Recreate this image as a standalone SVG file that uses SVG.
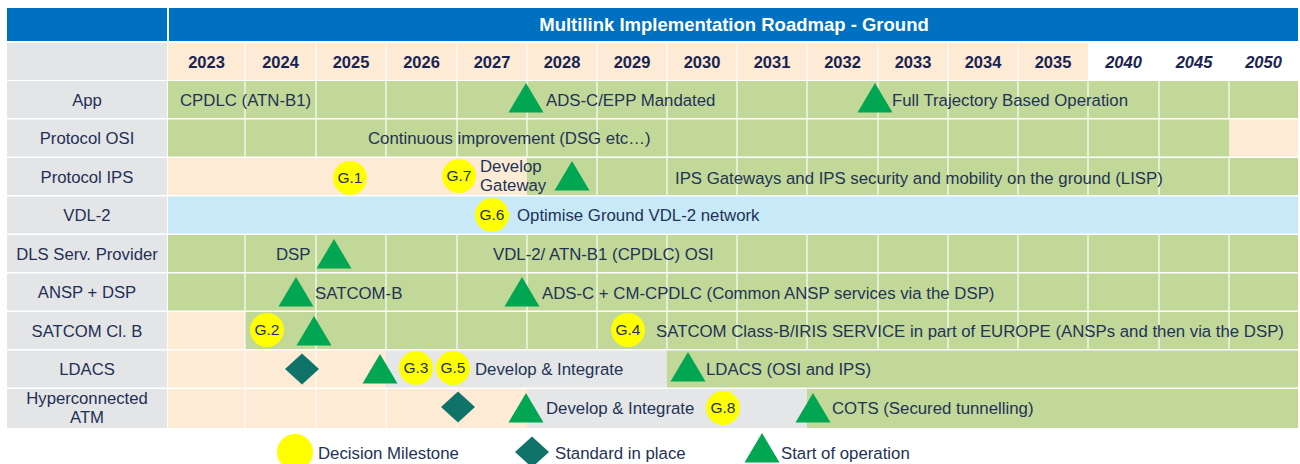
<svg xmlns="http://www.w3.org/2000/svg" xmlns:xlink="http://www.w3.org/1999/xlink" width="1300" height="464" viewBox="0 0 1300 464">
<style>
.t{font-family:"Liberation Sans",Arial,sans-serif;font-size:16.8px;fill:#223356}
.lbl{font-family:"Liberation Sans",Arial,sans-serif;font-size:16.7px;fill:#1f2f55;text-anchor:middle}
.yr{font-family:"Liberation Sans",Arial,sans-serif;font-size:16.5px;font-weight:bold;fill:#1a2450;text-anchor:middle}
.yri{font-style:italic}
.title{font-family:"Liberation Sans",Arial,sans-serif;font-size:18.5px;font-weight:bold;fill:#ffffff;text-anchor:middle}
.g{font-family:"Liberation Sans",Arial,sans-serif;font-size:15.5px;fill:#223356;text-anchor:middle}
.green{fill:#c2d898}
.beige{fill:#fdebd6}
.blue{fill:#c7e9f8}
.gray{fill:#e5e6e8}
.lab{fill:#e4e5e7}
.vl{stroke:#ffffff;stroke-width:1.5;stroke-opacity:0.75}
.vlb{stroke:#ffffff;stroke-width:1.5;stroke-opacity:0.6}
.tri{fill:#00a651}
.dia{fill:#0f736a}
.ms{fill:#ffff00}
</style>
<defs>
<path id="tri" d="M0,0 L17.5,29.5 L-17.5,29.5 Z"/>
<path id="dia" d="M0,-15.5 L17,0 L0,15.5 L-17,0 Z"/>
</defs>
<rect width="1300" height="464" fill="#ffffff"/>
<g id="header">
<rect x="7" y="8" width="160" height="33" fill="#0070c0"/>
<rect x="169" y="8" width="1129" height="33" fill="#0070c0"/>
<text class="title" x="734" y="31">Multilink Implementation Roadmap - Ground</text>
<rect x="7" y="43" width="160" height="37" class="lab"/>
<rect x="168" y="43" width="920" height="37" class="beige"/>
<g class="vl">
<line x1="245" y1="43" x2="245" y2="80"/><line x1="316" y1="43" x2="316" y2="80"/><line x1="386" y1="43" x2="386" y2="80"/><line x1="457" y1="43" x2="457" y2="80"/><line x1="527" y1="43" x2="527" y2="80"/><line x1="597" y1="43" x2="597" y2="80"/><line x1="667" y1="43" x2="667" y2="80"/><line x1="737" y1="43" x2="737" y2="80"/><line x1="807" y1="43" x2="807" y2="80"/><line x1="878" y1="43" x2="878" y2="80"/><line x1="948" y1="43" x2="948" y2="80"/><line x1="1018" y1="43" x2="1018" y2="80"/>
</g>
<text class="yr" x="206.5" y="68">2023</text>
<text class="yr" x="280.5" y="68">2024</text>
<text class="yr" x="351" y="68">2025</text>
<text class="yr" x="421.5" y="68">2026</text>
<text class="yr" x="492" y="68">2027</text>
<text class="yr" x="562" y="68">2028</text>
<text class="yr" x="632" y="68">2029</text>
<text class="yr" x="702" y="68">2030</text>
<text class="yr" x="772" y="68">2031</text>
<text class="yr" x="842.5" y="68">2032</text>
<text class="yr" x="913" y="68">2033</text>
<text class="yr" x="983" y="68">2034</text>
<text class="yr" x="1053" y="68">2035</text>
<text class="yr yri" x="1123.5" y="68">2040</text>
<text class="yr yri" x="1194" y="68">2045</text>
<text class="yr yri" x="1263.5" y="68">2050</text>
</g>
<g id="row-labels">
<rect x="7" y="81" width="160" height="37" class="lab"/>
<rect x="7" y="119.5" width="160" height="37" class="lab"/>
<rect x="7" y="158" width="160" height="37" class="lab"/>
<rect x="7" y="196.5" width="160" height="37" class="lab"/>
<rect x="7" y="235" width="160" height="37" class="lab"/>
<rect x="7" y="273.5" width="160" height="37" class="lab"/>
<rect x="7" y="312" width="160" height="37" class="lab"/>
<rect x="7" y="350.5" width="160" height="37" class="lab"/>
<rect x="7" y="389" width="160" height="39" class="lab"/>
<text class="lbl" x="87" y="106">App</text>
<text class="lbl" x="87" y="144">Protocol OSI</text>
<text class="lbl" x="87" y="183">Protocol IPS</text>
<text class="lbl" x="87" y="221">VDL-2</text>
<text class="lbl" x="87" y="260">DLS Serv. Provider</text>
<text class="lbl" x="87" y="298">ANSP + DSP</text>
<text class="lbl" x="87" y="337">SATCOM Cl. B</text>
<text class="lbl" x="87" y="375">LDACS</text>
<text class="lbl" x="87" y="404">Hyperconnected</text>
<text class="lbl" x="87" y="423">ATM</text>
</g>
<g id="cells">
<rect x="168" y="81" width="1130" height="37" class="green"/>
<rect x="168" y="119.5" width="1061" height="37" class="green"/>
<rect x="1229" y="119.5" width="69" height="37" class="beige"/>
<rect x="168" y="158" width="359" height="37" class="beige"/>
<rect x="527" y="158" width="771" height="37" class="green"/>
<rect x="168" y="196.5" width="1130" height="37" class="blue"/>
<rect x="168" y="235" width="1130" height="37" class="green"/>
<rect x="168" y="273.5" width="1130" height="37" class="green"/>
<rect x="168" y="312" width="77" height="37" class="beige"/>
<rect x="245" y="312" width="1053" height="37" class="green"/>
<rect x="168" y="350.5" width="218" height="37" class="beige"/>
<rect x="386" y="350.5" width="281" height="37" class="gray"/>
<rect x="667" y="350.5" width="631" height="37" class="green"/>
<rect x="168" y="389" width="359" height="39" class="beige"/>
<rect x="527" y="389" width="280" height="39" class="gray"/>
<rect x="807" y="389" width="491" height="39" class="green"/>
<g class="vl">
<path d="M245,81V157M316,81V157M386,81V157M457,81V157M527,81V157M597,81V157M667,81V157M737,81V157M807,81V157M878,81V157M948,81V157M1018,81V157M1088,81V157M1159,81V157M1229,81V118"/>
<path d="M597,158V195M667,158V195M737,158V195M807,158V195M878,158V195M948,158V195M1018,158V195M1088,158V195M1159,158V195M1229,158V195"/>
<path d="M245,235V349M316,235V349M386,235V349M457,235V349M527,235V349M597,235V349M667,235V349M737,235V349M807,235V349M878,235V349M948,235V349M1018,235V349M1088,235V349M1159,235V349M1229,235V349"/>
</g>
<g class="vlb">
<path d="M245,350.5V387.5M316,350.5V387.5M245,389V428M316,389V428M386,389V428M457,389V428"/>
</g>
</g>
<g id="texts">
<text class="t" x="180" y="106">CPDLC (ATN-B1)</text>
<text class="t" x="546" y="106">ADS-C/EPP Mandated</text>
<text class="t" x="892" y="106">Full Trajectory Based Operation</text>
<text class="t" x="368" y="144">Continuous improvement (DSG etc…)</text>
<text class="t" x="480" y="172">Develop</text>
<text class="t" x="480" y="191">Gateway</text>
<text class="t" x="675" y="184">IPS Gateways and IPS security and mobility on the ground (LISP)</text>
<text class="t" x="517" y="221">Optimise Ground VDL-2 network</text>
<text class="t" x="276" y="260">DSP</text>
<text class="t" x="493" y="260">VDL-2/ ATN-B1 (CPDLC) OSI</text>
<text class="t" x="315" y="299">SATCOM-B</text>
<text class="t" x="542" y="299">ADS-C + CM-CPDLC (Common ANSP services via the DSP)</text>
<text class="t" x="656" y="337">SATCOM Class-B/IRIS SERVICE in part of EUROPE (ANSPs and then via the DSP)</text>
<text class="t" x="475" y="375">Develop &amp; Integrate</text>
<text class="t" x="706" y="375">LDACS (OSI and IPS)</text>
<text class="t" x="546" y="414">Develop &amp; Integrate</text>
<text class="t" x="832" y="414">COTS (Secured tunnelling)</text>
</g>
<g id="start-of-operation">
<use href="#tri" class="tri" x="526" y="83"/>
<use href="#tri" class="tri" x="875" y="83"/>
<use href="#tri" class="tri" x="572" y="161"/>
<use href="#tri" class="tri" x="334" y="239"/>
<use href="#tri" class="tri" x="296" y="277"/>
<use href="#tri" class="tri" x="522" y="277"/>
<use href="#tri" class="tri" x="314" y="316"/>
<use href="#tri" class="tri" x="380" y="354"/>
<use href="#tri" class="tri" x="688" y="352"/>
<use href="#tri" class="tri" x="526" y="393"/>
<use href="#tri" class="tri" x="813" y="393"/>
</g>
<g id="standards">
<use href="#dia" class="dia" x="302" y="369"/>
<use href="#dia" class="dia" x="458" y="407"/>
</g>
<g id="decision-milestones">
<g id="G1"><circle cx="350" cy="178" r="17" class="ms"/><text class="g" x="350" y="183">G.1</text></g>
<g id="G7"><circle cx="459" cy="176" r="17" class="ms"/><text class="g" x="459" y="181">G.7</text></g>
<g id="G6"><circle cx="492" cy="215" r="17" class="ms"/><text class="g" x="492" y="220">G.6</text></g>
<g id="G2"><circle cx="267" cy="330" r="17" class="ms"/><text class="g" x="267" y="335">G.2</text></g>
<g id="G4"><circle cx="628" cy="330" r="17" class="ms"/><text class="g" x="628" y="335">G.4</text></g>
<g id="G3"><circle cx="416" cy="368" r="17" class="ms"/><text class="g" x="416" y="373">G.3</text></g>
<g id="G5"><circle cx="453" cy="368" r="17" class="ms"/><text class="g" x="453" y="373">G.5</text></g>
<g id="G8"><circle cx="723" cy="408" r="17" class="ms"/><text class="g" x="723" y="413">G.8</text></g>
</g>
<g id="legend">
<circle cx="295" cy="452" r="18" class="ms"/>
<text class="t" x="318" y="459">Decision Milestone</text>
<use href="#dia" class="dia" x="532" y="452"/>
<text class="t" x="555" y="459">Standard in place</text>
<use href="#tri" class="tri" x="762" y="433"/>
<text class="t" x="781" y="459">Start of operation</text>
</g>
</svg>
